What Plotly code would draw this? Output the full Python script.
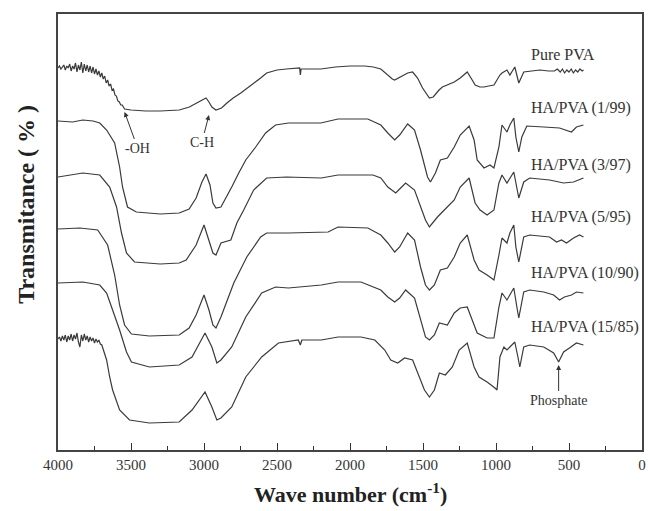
import plotly.graph_objects as go

# ---------------- data (wavenumber in cm-1, transmittance in offset a.u.) ----------------
labels = ["Pure PVA", "HA/PVA (1/99)", "HA/PVA (3/97)", "HA/PVA (5/95)", "HA/PVA (10/90)", "HA/PVA (15/85)"]

pva_wn = [4000, 3990, 3980, 3970, 3960, 3950, 3940, 3930, 3920, 3910, 3900, 3890, 3880, 3870, 3860, 3850,
          3840, 3830, 3820, 3810, 3800, 3790, 3780, 3770, 3760, 3750, 3740, 3730, 3720, 3710, 3700, 3690,
          3680, 3670, 3660, 3650, 3640, 3630, 3620, 3610, 3600, 3590, 3580, 3570, 3560, 3544,
          3500, 3400, 3300, 3170, 3100, 3050, 3000, 2986, 2966, 2946, 2918, 2880, 2843,
          2800, 2748, 2700, 2660, 2612, 2571, 2500, 2435, 2354, 2345, 2340, 2335, 2300, 2200, 2100, 2000, 1900,
          1840, 1789, 1741, 1710, 1694, 1670, 1639, 1605, 1571, 1537, 1503, 1470, 1456, 1430, 1415, 1390, 1367,
          1330, 1286, 1245, 1197, 1163, 1143, 1110, 1082, 1050, 1014, 973, 959, 925, 905, 871, 844, 810, 769,
          700, 640, 600, 580, 560, 545, 530, 515, 500, 485, 470, 455, 440, 425, 410, 400]
pva_t = [382, 384, 381, 383, 385, 380, 384, 382, 386, 379, 384, 381, 387, 378, 385, 380,
         388, 377, 386, 379, 385, 378, 384, 377, 383, 376, 381, 375, 379, 373, 377, 371,
         374, 367, 370, 364, 366, 360, 361, 355, 354, 349, 348, 345, 345, 341,
         340, 339, 339, 340, 343, 347, 351, 352, 348, 343, 340, 342, 347,
         352, 357, 362, 367, 372, 377, 380, 381, 382, 382, 375, 381, 381, 381, 383, 384, 384,
         383, 381, 375, 371, 370, 372, 375, 377, 378, 372, 362, 355, 352, 353, 356, 360, 363,
         365, 368, 372, 378, 370, 365, 363, 363, 364, 365, 375, 377, 380, 375, 383, 367, 378, 379,
         380, 379, 379, 381, 378, 381, 377, 380, 378, 381, 377, 380, 378, 381, 379, 380]

ha1_wn = [4000, 3900, 3830, 3760, 3714, 3667, 3612, 3578, 3558, 3524, 3463, 3300, 3170, 3102, 3054, 3014, 2986,
          2959, 2939, 2918, 2884, 2850, 2810, 2762, 2714, 2646, 2578, 2510, 2422, 2200, 2082, 1878, 1789, 1741,
          1694, 1660, 1605, 1558, 1517, 1469, 1449, 1415, 1381, 1333, 1286, 1245, 1184, 1150, 1129, 1082, 1041,
          1014, 980, 959, 925, 905, 878, 864, 844, 823, 789, 673, 565, 483, 449, 401]
ha1_t = [329, 328, 330, 329, 327, 320, 307, 283, 263, 243, 238, 236, 237, 241, 252, 268, 276,
         265, 247, 242, 243, 252, 263, 277, 290, 303, 317, 325, 327, 327, 331, 331, 325, 317,
         310, 315, 326, 320, 300, 273, 268, 277, 290, 292, 303, 315, 324, 310, 290, 282, 285,
         282, 303, 325, 318, 325, 332, 313, 298, 313, 324, 323, 322, 318, 323, 325]

ha3_wn = [4000, 3830, 3714, 3646, 3599, 3565, 3531, 3476, 3300, 3170, 3122, 3054, 3000, 2966, 2939, 2918, 2884,
          2816, 2775, 2728, 2660, 2571, 2435, 2197, 2082, 1843, 1789, 1741, 1687, 1653, 1619, 1558, 1517, 1483,
          1456, 1401, 1354, 1286, 1245, 1184, 1143, 1109, 1061, 1014, 980, 959, 925, 905, 878, 844, 810, 769,
          633, 537, 469, 401]
ha3_t = [273, 277, 275, 263, 243, 217, 197, 188, 186, 187, 190, 205, 225, 210, 197, 195, 207,
         210, 227, 240, 260, 272, 273, 272, 275, 275, 272, 263, 257, 262, 267, 260, 243, 230,
         223, 233, 240, 250, 263, 272, 247, 240, 235, 240, 267, 275, 267, 272, 278, 252, 268, 272,
         270, 267, 268, 272]

ha5_wn = [4000, 3850, 3728, 3660, 3612, 3578, 3544, 3497, 3374, 3170, 3102, 3054, 3000, 2966, 2939, 2918, 2884,
          2796, 2707, 2612, 2571, 2422, 2150, 2082, 1878, 1789, 1741, 1694, 1660, 1605, 1558, 1517, 1483, 1456,
          1422, 1381, 1333, 1286, 1245, 1197, 1150, 1116, 1061, 1014, 980, 959, 925, 905, 878, 864, 844, 810,
          769, 633, 585, 551, 517, 469, 428, 401]
ha5_t = [221, 222, 220, 205, 175, 145, 125, 116, 114, 115, 122, 135, 155, 140, 125, 122, 133,
         167, 193, 213, 217, 217, 218, 223, 222, 215, 207, 198, 203, 217, 210, 183, 165, 160,
         165, 180, 182, 193, 207, 215, 190, 180, 175, 170, 195, 212, 207, 217, 225, 203, 188, 213,
         215, 213, 208, 210, 207, 212, 215, 213]

ha10_wn = [4000, 3830, 3714, 3667, 3626, 3578, 3531, 3497, 3374, 3170, 3082, 2993, 2946, 2912, 2884, 2810, 2714,
           2605, 2510, 2422, 2197, 2082, 1925, 1789, 1741, 1694, 1660, 1619, 1558, 1517, 1483, 1456, 1422, 1388,
           1333, 1286, 1245, 1197, 1163, 1129, 1061, 1014, 980, 959, 925, 905, 878, 857, 844, 810, 769, 673,
           605, 565, 531, 483, 449, 401]
ha10_t = [167, 168, 165, 157, 140, 120, 98, 88, 83, 85, 93, 117, 103, 87, 90, 103, 133,
          157, 163, 162, 165, 168, 168, 160, 153, 148, 152, 160, 152, 130, 113, 110, 115, 127,
          125, 137, 142, 143, 130, 117, 112, 112, 143, 157, 150, 155, 162, 143, 132, 158, 160, 158,
          155, 150, 153, 155, 158, 157]

ha15_wn = [4000, 3990, 3980, 3970, 3960, 3950, 3940, 3930, 3920, 3910, 3900, 3890, 3880, 3870, 3860, 3850,
           3840, 3830, 3820, 3810, 3800, 3790, 3780, 3770, 3760, 3750, 3740, 3730, 3720, 3710, 3700, 3690,
           3680, 3667, 3646, 3626, 3578,
           3510, 3374, 3170, 3082, 2993, 2946, 2912, 2884, 2810, 2714, 2605, 2490, 2354, 2340, 2330, 2197, 2082,
           1925, 1830, 1762, 1721, 1673, 1626, 1571, 1524, 1490, 1456, 1422, 1388, 1347, 1299, 1252, 1197, 1150,
           1116, 1061, 1007, 993, 973, 946, 925, 905, 871, 850, 837, 810, 769, 673, 605, 571, 537, 497, 449, 401]
ha15_t = [111, 113, 109, 114, 110, 115, 108, 114, 110, 116, 109, 115, 111, 117, 108, 103,
          115, 109, 116, 110, 114, 108, 113, 109, 112, 107, 111, 108, 110, 106, 105, 100,
          97, 90, 73, 60, 40,
          30, 27, 28, 40, 58, 43, 30, 32, 43, 73, 93, 107, 110, 105, 110, 110, 113,
          113, 110, 100, 90, 87, 92, 90, 73, 60, 53, 60, 77, 75, 83, 100, 107, 83,
          73, 68, 62, 60, 93, 103, 100, 103, 108, 93, 83, 103, 105, 103, 97, 88, 98, 102, 107, 105]

series_wn = [pva_wn, ha1_wn, ha3_wn, ha5_wn, ha10_wn, ha15_wn]
series_t = [pva_t, ha1_t, ha3_t, ha5_t, ha10_t, ha15_t]

label_wn = 775
label_t = [396, 342, 285, 233, 177, 123]

x_ticks = [4000, 3500, 3000, 2500, 2000, 1500, 1000, 500, 0]

# ---------------- figure ----------------
SERIF = "Liberation Serif, Times New Roman, serif"
LINE = "#3a3a3a"

fig = go.Figure()
for wn, t, name in zip(series_wn, series_t, labels):
    fig.add_trace(go.Scatter(x=wn, y=t, mode="lines", name=name,
                             line=dict(color=LINE, width=1.2), showlegend=False))

annotations = []
for name, ty in zip(labels, label_t):
    annotations.append(dict(x=label_wn, y=ty, xref="x", yref="y", text=name, showarrow=False,
                            xanchor="left", yanchor="middle",
                            font=dict(family=SERIF, size=16, color="#333")))

# band annotations: text sits at the arrow tail, arrow points to the band
annotations += [
    dict(x=3544, y=338, xref="x", yref="y", text="-OH", showarrow=True, ax=13, ay=36,
         arrowhead=2, arrowsize=1, arrowwidth=1, arrowcolor="#333",
         font=dict(family=SERIF, size=14, color="#333")),
    dict(x=2966, y=335, xref="x", yref="y", text="C-H", showarrow=True, ax=-7, ay=27,
         arrowhead=2, arrowsize=1, arrowwidth=1, arrowcolor="#333",
         font=dict(family=SERIF, size=14, color="#333")),
    dict(x=571, y=85, xref="x", yref="y", text="Phosphate", showarrow=True, ax=0, ay=35,
         arrowhead=2, arrowsize=1, arrowwidth=1, arrowcolor="#333",
         font=dict(family=SERIF, size=14, color="#333")),
]

# axis titles
annotations += [
    dict(x=0.5, y=-0.099, xref="paper", yref="paper", text="<b>Wave number (cm<sup>-1</sup>)</b>",
         showarrow=False, xanchor="center", yanchor="middle",
         font=dict(family=SERIF, size=22, color="#222")),
    dict(x=-0.056, y=0.563, xref="paper", yref="paper", text="<b>Transmitance ( % )</b>",
         showarrow=False, textangle=-90, xanchor="center", yanchor="middle",
         font=dict(family=SERIF, size=24, color="#222")),
]

fig.update_layout(
    width=648, height=511,
    margin=dict(l=58, r=2, t=14, b=61),
    paper_bgcolor="white", plot_bgcolor="white",
    annotations=annotations,
    xaxis=dict(range=[4000, 0], tickvals=x_ticks, ticks="inside", ticklen=7, tickwidth=1.3,
               tickcolor="#333", showline=True, linecolor="#444", linewidth=1.5, mirror=True,
               showgrid=False, zeroline=False,
               tickfont=dict(family=SERIF, size=15, color="#333"),
               minor=dict(dtick=250, ticks="inside", ticklen=4, tickwidth=1.2, tickcolor="#333",
                          tick0=0, showgrid=False)),
    yaxis=dict(range=[0, 436], showticklabels=False, ticks="", showline=True, linecolor="#444",
               linewidth=1.5, mirror=True, showgrid=False, zeroline=False),
)

fig.write_html("out.html")
